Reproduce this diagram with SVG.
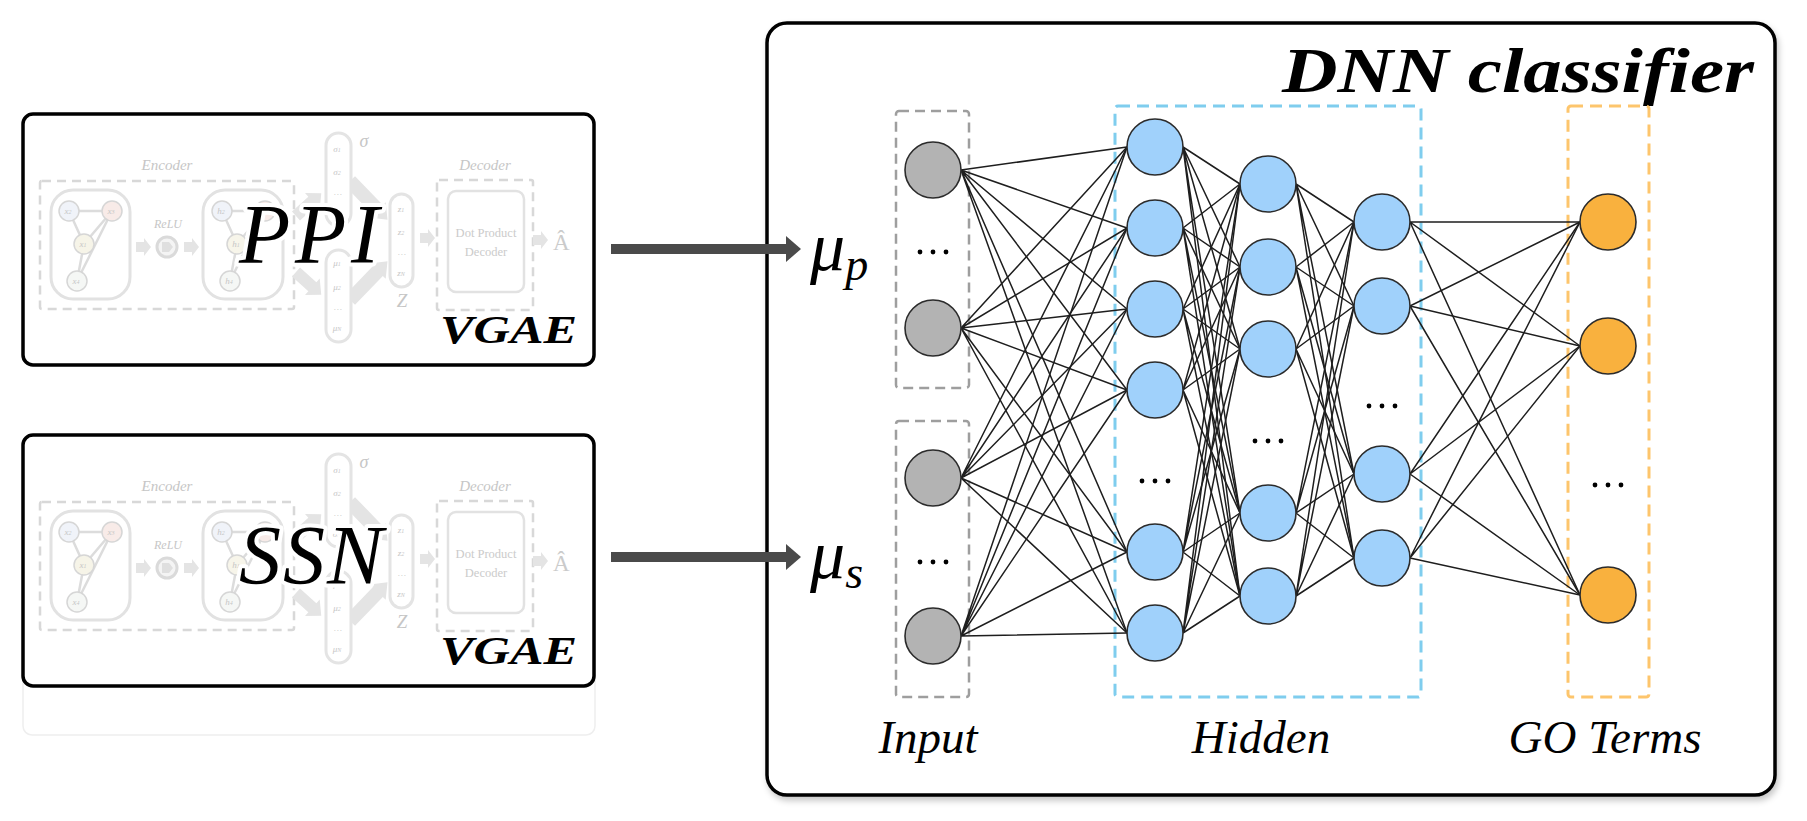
<svg xmlns="http://www.w3.org/2000/svg" xmlns:xlink="http://www.w3.org/1999/xlink" width="1807" height="821" viewBox="0 0 1807 821">
  <style>
    .frame { fill: #ffffff; stroke: #000000; stroke-width: 3.5; }
    .feed { fill: #4a4a4a; }
    .edge { stroke: #1e1e1e; stroke-width: 1.5; fill: none; }
    .n-in { fill: #b3b3b3; stroke: #2b2b2b; stroke-width: 1.6; }
    .n-hid { fill: #a0d1fb; stroke: #2b2b2b; stroke-width: 1.6; }
    .n-out { fill: #f9b13e; stroke: #2b2b2b; stroke-width: 1.6; }
    .grp-in { fill: none; stroke: #9e9e9e; stroke-width: 2.5; stroke-dasharray: 10 6; }
    .grp-hid { fill: none; stroke: #7fcdee; stroke-width: 3; stroke-dasharray: 12 7; }
    .grp-out { fill: none; stroke: #fdc56c; stroke-width: 3; stroke-dasharray: 12 7; }
    .dot { fill: #000000; }
    .layer-name { font-style: italic; font-size: 47px; fill: #000000; text-anchor: middle; }
    .title { font-style: italic; font-weight: bold; fill: #000000; }
    .net-name { font-style: italic; font-size: 84px; fill: #000000; stroke: #ffffff; stroke-width: 8; stroke-linejoin: round; paint-order: stroke; }
    .mu { font-style: italic; fill: #000000; }
    .sk-line { fill: none; stroke: #dcdcdc; stroke-width: 2.5; }
    .sk-dash { fill: none; stroke: #d8d8d8; stroke-width: 2.5; stroke-dasharray: 9 6; }
    .sk-round { fill: none; stroke: #e2e2e2; stroke-width: 3; }
    .sk-pill { fill: #ffffff; stroke: #e4e4e4; stroke-width: 3; }
    .sk-arrow { fill: #e4e4e4; }
    .sk-text { fill: #cbcbcb; }
    .sk-it { font-style: italic; fill: #c6c6c6; text-anchor: middle; }
    .sk-node { stroke: #d6d6d6; stroke-width: 1.5; }
  </style>
  <defs>
    <filter id="soft-shadow" x="-3%" y="-3%" width="106%" height="108%">
      <feDropShadow dx="2" dy="4" stdDeviation="3" flood-color="#000000" flood-opacity="0.22"/>
    </filter>
    <path id="blk-arrow" d="M0 -5 H8 V-9 L15 0 L8 9 V5 H0 Z"/>
    <path id="blk-arrow-long" d="M0 -6 H22 V-11 L34 0 L22 11 V6 H0 Z"/>
    <path id="blk-band" d="M0 -7 H40 V-11 L54 0 L40 11 V7 H0 Z"/>
    <!-- faded VGAE sketch shown behind each encoder label -->
    <g id="vgae-sketch" font-family="'Liberation Serif', 'Times New Roman', serif">
      <text class="sk-it" x="167" y="170" font-size="15">Encoder</text>
      <rect class="sk-dash" x="40" y="181" width="254" height="128" rx="2"/>
      <!-- input graph -->
      <rect class="sk-round" x="51" y="190" width="79" height="109" rx="22"/>
      <path class="sk-line" d="M69 211L112 211M69 211L84 244M112 211L84 244M112 211L77 281M84 244L77 281"/>
      <circle class="sk-node" cx="69" cy="211" r="10" fill="#f0f3f9"/>
      <circle class="sk-node" cx="112" cy="211" r="10" fill="#f8ebe8"/>
      <circle class="sk-node" cx="84" cy="244" r="10" fill="#f6f4e8"/>
      <circle class="sk-node" cx="77" cy="281" r="10" fill="#f5f7f5"/>
      <g class="sk-it" font-size="9">
        <text x="68" y="214">x<tspan font-size="6">2</tspan></text>
        <text x="111" y="214">x<tspan font-size="6">3</tspan></text>
        <text x="83" y="247">x<tspan font-size="6">1</tspan></text>
        <text x="76" y="284">x<tspan font-size="6">4</tspan></text>
      </g>
      <use xlink:href="#blk-arrow" class="sk-arrow" transform="translate(136,247)"/>
      <text class="sk-it" x="168" y="228" font-size="12">ReLU</text>
      <circle cx="167" cy="247" r="10" fill="#f4f4f4" stroke="#dadada" stroke-width="3"/>
      <path d="M162 242H169L173 247L169 252H162Z" fill="#dfdfdf"/>
      <use xlink:href="#blk-arrow" class="sk-arrow" transform="translate(184,247)"/>
      <!-- hidden graph -->
      <rect class="sk-round" x="203" y="190" width="80" height="109" rx="22"/>
      <path class="sk-line" d="M222 211L265 211M222 211L237 244M265 211L237 244M265 211L230 281M237 244L230 281"/>
      <circle class="sk-node" cx="222" cy="211" r="10" fill="#f0f3f9"/>
      <circle class="sk-node" cx="265" cy="211" r="10" fill="#f8ebe8"/>
      <circle class="sk-node" cx="237" cy="244" r="10" fill="#f7f5ea"/>
      <circle class="sk-node" cx="230" cy="281" r="10" fill="#f5f7f5"/>
      <g class="sk-it" font-size="9">
        <text x="221" y="214">h<tspan font-size="6">2</tspan></text>
        <text x="264" y="214">h<tspan font-size="6">3</tspan></text>
        <text x="236" y="247">h<tspan font-size="6">1</tspan></text>
        <text x="229" y="284">h<tspan font-size="6">4</tspan></text>
      </g>
      <!-- branches to sigma / mu -->
      <use xlink:href="#blk-arrow-long" class="sk-arrow" transform="translate(296,216) rotate(-42)"/>
      <use xlink:href="#blk-arrow-long" class="sk-arrow" transform="translate(296,272) rotate(42)"/>
      <use xlink:href="#blk-band" class="sk-arrow" transform="translate(350,181) rotate(46)"/>
      <use xlink:href="#blk-band" class="sk-arrow" transform="translate(350,300) rotate(-46)"/>
      <rect class="sk-pill" x="326" y="133" width="25" height="93" rx="12.5"/>
      <rect class="sk-pill" x="326" y="250" width="25" height="92" rx="12.5"/>
      <g class="sk-it" font-size="9">
        <text x="337" y="152">σ<tspan font-size="6">1</tspan></text>
        <text x="337" y="175">σ<tspan font-size="6">2</tspan></text>
        <text x="338" y="195">…</text>
        <text x="337" y="216">σ<tspan font-size="6">N</tspan></text>
        <text x="337" y="266">μ<tspan font-size="6">1</tspan></text>
        <text x="337" y="290">μ<tspan font-size="6">2</tspan></text>
        <text x="338" y="310">…</text>
        <text x="337" y="331">μ<tspan font-size="6">N</tspan></text>
      </g>
      <text class="sk-it" x="364" y="147" font-size="18">σ</text>
      <!-- latent Z -->
      <rect class="sk-pill" x="390" y="194" width="23" height="93" rx="11.5"/>
      <g class="sk-it" font-size="9">
        <text x="401" y="212">z<tspan font-size="6">1</tspan></text>
        <text x="401" y="235">z<tspan font-size="6">2</tspan></text>
        <text x="402" y="255">…</text>
        <text x="401" y="276">z<tspan font-size="6">N</tspan></text>
      </g>
      <text class="sk-it" x="402" y="307" font-size="19">Z</text>
      <use xlink:href="#blk-arrow" class="sk-arrow" transform="translate(420,238)"/>
      <!-- decoder -->
      <text class="sk-it" x="485" y="170" font-size="15">Decoder</text>
      <rect class="sk-dash" x="437" y="180" width="96" height="130" rx="2"/>
      <rect x="448" y="191" width="76" height="101" rx="8" fill="none" stroke="#e2e2e2" stroke-width="2.5"/>
      <text class="sk-text" x="486" y="237" font-size="12.5" text-anchor="middle">Dot Product</text>
      <text class="sk-text" x="486" y="256" font-size="12.5" text-anchor="middle">Decoder</text>
      <use xlink:href="#blk-arrow" class="sk-arrow" transform="translate(533,240)"/>
      <text class="sk-text" x="553" y="250" font-size="23">Â</text>
    </g>
  </defs>

  <rect width="1807" height="821" fill="#ffffff"/>

  <!-- PPI encoder panel -->
  <g id="ppi-vgae">
    <rect class="frame" x="23" y="114" width="571" height="251" rx="10"/>
    <use xlink:href="#vgae-sketch"/>
    <text class="net-name" font-family="'Liberation Serif', 'Times New Roman', serif" x="239" y="263" textLength="140" lengthAdjust="spacing">PPI</text>
    <text class="title" font-family="'Liberation Serif', 'Times New Roman', serif" x="440" y="343" font-size="39" textLength="137" lengthAdjust="spacingAndGlyphs">VGAE</text>
  </g>

  <!-- SSN encoder panel -->
  <g id="ssn-vgae">
    <rect x="23" y="488" width="572" height="247" rx="9" fill="none" stroke="#eeeeee" stroke-width="1.5"/>
    <rect class="frame" x="23" y="435" width="571" height="251" rx="10"/>
    <use xlink:href="#vgae-sketch" transform="translate(0,321)"/>
    <text class="net-name" font-family="'Liberation Serif', 'Times New Roman', serif" x="239" y="584" textLength="144" lengthAdjust="spacing">SSN</text>
    <text class="title" font-family="'Liberation Serif', 'Times New Roman', serif" x="440" y="664" font-size="39" textLength="137" lengthAdjust="spacingAndGlyphs">VGAE</text>
  </g>

  <!-- classifier panel -->
  <g id="dnn-classifier">
    <rect class="frame" x="767" y="23" width="1008" height="772" rx="20" filter="url(#soft-shadow)"/>
    <text class="title" font-family="'Liberation Serif', 'Times New Roman', serif" x="1282" y="92" font-size="64" textLength="472" lengthAdjust="spacingAndGlyphs">DNN classifier</text>
  </g>

  <!-- feed arrows from the encoders -->
  <g id="feed-ppi">
    <rect class="feed" x="611" y="244" width="177" height="10"/>
    <path class="feed" d="M786 236L801 249L786 262Z"/>
  </g>
  <g id="feed-ssn">
    <rect class="feed" x="611" y="552" width="177" height="10"/>
    <path class="feed" d="M786 544L801 557L786 570Z"/>
  </g>

  <g id="label-mu-p">
    <text class="mu" font-family="'Liberation Serif', 'Times New Roman', serif" x="810" y="270" font-size="70">μ<tspan font-size="46" dy="10">p</tspan></text>
  </g>
  <g id="label-mu-s">
    <text class="mu" font-family="'Liberation Serif', 'Times New Roman', serif" x="810" y="578" font-size="70">μ<tspan font-size="46" dy="10">s</tspan></text>
  </g>

  <!-- layer groupings -->
  <g id="input-groups">
    <rect class="grp-in" x="896" y="111" width="73" height="277" rx="3"/>
    <rect class="grp-in" x="896" y="421" width="73" height="276" rx="3"/>
  </g>
  <g id="hidden-group">
    <rect class="grp-hid" x="1115" y="106" width="306" height="591" rx="3"/>
  </g>
  <g id="output-group">
    <rect class="grp-out" x="1568" y="106" width="81" height="591" rx="3"/>
  </g>

  <!-- connections -->
  <g id="connectors" class="edge">
    <path d="M961 170L1127 147M961 170L1127 228M961 170L1127 309M961 170L1127 390M961 170L1127 552M961 170L1127 633"/>
    <path d="M961 328L1127 147M961 328L1127 228M961 328L1127 309M961 328L1127 390M961 328L1127 552M961 328L1127 633"/>
    <path d="M961 478L1127 147M961 478L1127 228M961 478L1127 309M961 478L1127 390M961 478L1127 552M961 478L1127 633"/>
    <path d="M961 636L1127 147M961 636L1127 228M961 636L1127 309M961 636L1127 390M961 636L1127 552M961 636L1127 633"/>

    <path d="M1183 147L1240 184M1183 147L1240 267M1183 147L1240 349M1183 147L1240 513M1183 147L1240 596"/>
    <path d="M1183 228L1240 184M1183 228L1240 267M1183 228L1240 349M1183 228L1240 513M1183 228L1240 596"/>
    <path d="M1183 309L1240 184M1183 309L1240 267M1183 309L1240 349M1183 309L1240 513M1183 309L1240 596"/>
    <path d="M1183 390L1240 184M1183 390L1240 267M1183 390L1240 349M1183 390L1240 513M1183 390L1240 596"/>
    <path d="M1183 552L1240 184M1183 552L1240 267M1183 552L1240 349M1183 552L1240 513M1183 552L1240 596"/>
    <path d="M1183 633L1240 184M1183 633L1240 267M1183 633L1240 349M1183 633L1240 513M1183 633L1240 596"/>

    <path d="M1296 184L1354 222M1296 184L1354 306M1296 184L1354 474M1296 184L1354 558"/>
    <path d="M1296 267L1354 222M1296 267L1354 306M1296 267L1354 474M1296 267L1354 558"/>
    <path d="M1296 349L1354 222M1296 349L1354 306M1296 349L1354 474M1296 349L1354 558"/>
    <path d="M1296 513L1354 222M1296 513L1354 306M1296 513L1354 474M1296 513L1354 558"/>
    <path d="M1296 596L1354 222M1296 596L1354 306M1296 596L1354 474M1296 596L1354 558"/>

    <path d="M1410 222L1580 222M1410 222L1580 346M1410 222L1580 595"/>
    <path d="M1410 306L1580 222M1410 306L1580 346M1410 306L1580 595"/>
    <path d="M1410 474L1580 222M1410 474L1580 346M1410 474L1580 595"/>
    <path d="M1410 558L1580 222M1410 558L1580 346M1410 558L1580 595"/>
  </g>

  <!-- input nodes -->
  <g id="in-1"><circle class="n-in" cx="933" cy="170" r="28"/></g>
  <g id="in-2"><circle class="n-in" cx="933" cy="328" r="28"/></g>
  <g id="in-3"><circle class="n-in" cx="933" cy="478" r="28"/></g>
  <g id="in-4"><circle class="n-in" cx="933" cy="636" r="28"/></g>
  <g id="in-ellipsis" class="dot">
    <circle cx="920" cy="252" r="2.4"/><circle cx="933" cy="252" r="2.4"/><circle cx="946" cy="252" r="2.4"/>
    <circle cx="920" cy="562" r="2.4"/><circle cx="933" cy="562" r="2.4"/><circle cx="946" cy="562" r="2.4"/>
  </g>

  <!-- hidden layer 1 -->
  <g id="h1-1"><circle class="n-hid" cx="1155" cy="147" r="28"/></g>
  <g id="h1-2"><circle class="n-hid" cx="1155" cy="228" r="28"/></g>
  <g id="h1-3"><circle class="n-hid" cx="1155" cy="309" r="28"/></g>
  <g id="h1-4"><circle class="n-hid" cx="1155" cy="390" r="28"/></g>
  <g id="h1-5"><circle class="n-hid" cx="1155" cy="552" r="28"/></g>
  <g id="h1-6"><circle class="n-hid" cx="1155" cy="633" r="28"/></g>
  <g id="h1-ellipsis" class="dot">
    <circle cx="1142" cy="481" r="2.4"/><circle cx="1155" cy="481" r="2.4"/><circle cx="1168" cy="481" r="2.4"/>
  </g>

  <!-- hidden layer 2 -->
  <g id="h2-1"><circle class="n-hid" cx="1268" cy="184" r="28"/></g>
  <g id="h2-2"><circle class="n-hid" cx="1268" cy="267" r="28"/></g>
  <g id="h2-3"><circle class="n-hid" cx="1268" cy="349" r="28"/></g>
  <g id="h2-4"><circle class="n-hid" cx="1268" cy="513" r="28"/></g>
  <g id="h2-5"><circle class="n-hid" cx="1268" cy="596" r="28"/></g>
  <g id="h2-ellipsis" class="dot">
    <circle cx="1255" cy="441" r="2.4"/><circle cx="1268" cy="441" r="2.4"/><circle cx="1281" cy="441" r="2.4"/>
  </g>

  <!-- hidden layer 3 -->
  <g id="h3-1"><circle class="n-hid" cx="1382" cy="222" r="28"/></g>
  <g id="h3-2"><circle class="n-hid" cx="1382" cy="306" r="28"/></g>
  <g id="h3-3"><circle class="n-hid" cx="1382" cy="474" r="28"/></g>
  <g id="h3-4"><circle class="n-hid" cx="1382" cy="558" r="28"/></g>
  <g id="h3-ellipsis" class="dot">
    <circle cx="1369" cy="406" r="2.4"/><circle cx="1382" cy="406" r="2.4"/><circle cx="1395" cy="406" r="2.4"/>
  </g>

  <!-- GO term outputs -->
  <g id="out-1"><circle class="n-out" cx="1608" cy="222" r="28"/></g>
  <g id="out-2"><circle class="n-out" cx="1608" cy="346" r="28"/></g>
  <g id="out-3"><circle class="n-out" cx="1608" cy="595" r="28"/></g>
  <g id="out-ellipsis" class="dot">
    <circle cx="1595" cy="485" r="2.4"/><circle cx="1608" cy="485" r="2.4"/><circle cx="1621" cy="485" r="2.4"/>
  </g>

  <!-- layer captions -->
  <g id="captions" font-family="'Liberation Serif', 'Times New Roman', serif">
    <text class="layer-name" x="928" y="753">Input</text>
    <text class="layer-name" x="1261" y="753">Hidden</text>
    <text class="layer-name" x="1605" y="753">GO Terms</text>
  </g>
</svg>
